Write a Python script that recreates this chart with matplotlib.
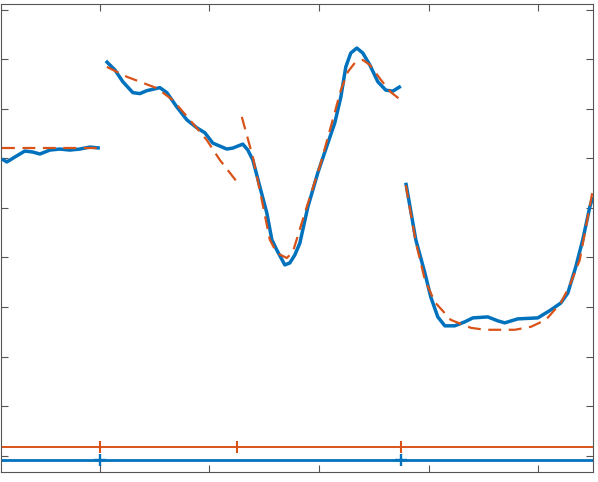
import matplotlib
matplotlib.use("Agg")
import matplotlib.pyplot as plt
import numpy as np

BLUE = "#0072BD"
ORANGE = "#D95319"

# Blue (measured) signal, three segments
blue1_x = [2.12, 3.03, 4.49, 6.31, 7.77, 9.05, 10.88, 12.70, 14.53, 16.35, 18.18, 20.0]
blue1_y = [5.99, 5.93, 6.03, 6.15, 6.13, 6.09, 6.17, 6.19, 6.17, 6.19, 6.23, 6.21]

blue2_x = [21.09, 22.74, 24.20, 26.02, 27.30, 28.58, 30.95, 32.23, 34.05, 35.88, 37.70, 39.16,
           40.62, 43.17, 44.27, 46.09, 47.01, 47.92, 49.20, 50.47, 51.39, 52.30, 53.76, 54.67,
           55.58, 56.50, 57.96, 59.78, 61.61, 62.88, 63.98, 64.89, 65.80, 66.90, 67.99, 69.27,
           70.73, 72.19, 73.47, 74.93]
blue2_y = [7.97, 7.79, 7.55, 7.33, 7.31, 7.37, 7.43, 7.33, 7.04, 6.78, 6.62, 6.52,
           6.31, 6.19, 6.21, 6.29, 6.17, 5.97, 5.43, 4.90, 4.36, 4.15, 3.85, 3.89,
           4.05, 4.29, 5.02, 5.71, 6.31, 6.72, 7.24, 7.85, 8.13, 8.23, 8.13, 7.89,
           7.55, 7.38, 7.36, 7.46]

blue3_x = [75.84, 77.66, 79.31, 80.40, 81.68, 82.96, 84.78, 86.61, 88.07, 90.80, 92.63, 93.90,
           96.28, 99.93, 102.30, 104.12, 105.40, 106.86, 108.14, 109.42, 109.96]
blue3_y = [5.51, 4.36, 3.69, 3.20, 2.80, 2.62, 2.62, 2.70, 2.78, 2.80, 2.72, 2.68,
           2.76, 2.78, 2.94, 3.08, 3.28, 3.81, 4.36, 5.02, 5.22]

# Orange (fitted) segments
or1_x = [2.12, 20.0]
or1_y = [6.21, 6.21]

or2_x = [21.28, 24.93, 30.40, 33.32, 36.42, 39.53, 41.90, 45.00]
or2_y = [7.85, 7.65, 7.42, 7.18, 6.78, 6.37, 5.97, 5.53]

or3_x = [45.91, 47.92, 49.56, 51.02, 52.30, 54.12, 55.22, 57.41, 60.33, 62.15, 63.98, 65.26,
         66.53, 67.99, 69.27, 71.28, 73.10, 74.93]
or3_y = [6.84, 6.03, 5.16, 4.36, 4.09, 3.99, 4.11, 4.90, 5.91, 6.64, 7.38, 7.75,
         7.93, 7.99, 7.89, 7.59, 7.34, 7.18]

or4_x = [75.84, 77.66, 79.31, 81.13, 84.05, 87.70, 90.25, 95.73, 98.65, 101.39, 104.12, 105.77,
         107.59, 109.96]
or4_y = [5.46, 4.31, 3.55, 3.10, 2.74, 2.58, 2.54, 2.54, 2.60, 2.74, 3.08, 3.44,
         3.95, 5.36]

# Segmentation indicator lines
orange_breaks = [20.0, 45.0, 75.05]
orange_level = 0.166
blue_breaks = [20.0, 75.05]
blue_level = -0.09

xticks = [20, 40, 60, 80, 100]
yticks = list(range(10))
xlim = (2.05, 110.0)
ylim = (-0.333, 9.12)

fig = plt.figure(figsize=(5.98, 4.82), dpi=100)
ax = fig.add_axes([0.0025, 0.0207, 0.9891, 0.971])

for xs, ys in [(blue1_x, blue1_y), (blue2_x, blue2_y), (blue3_x, blue3_y)]:
    ax.plot(xs, ys, color=BLUE, lw=2.5, solid_capstyle="butt", solid_joinstyle="round", zorder=3)
for xs, ys in [(or1_x, or1_y), (or2_x, or2_y), (or3_x, or3_y), (or4_x, or4_y)]:
    ax.plot(xs, ys, color=ORANGE, lw=1.6, dashes=(5.8, 3.4), zorder=4)

ax.axhline(orange_level, color=ORANGE, lw=1.4, zorder=2)
ax.plot(orange_breaks, [orange_level] * len(orange_breaks), ls="none", marker="|",
        ms=9, mew=1.5, color=ORANGE, zorder=2)
ax.axhline(blue_level, color=BLUE, lw=2.0, zorder=2)
ax.plot(blue_breaks, [blue_level] * len(blue_breaks), ls="none", marker="+",
        ms=9, mew=1.7, color=BLUE, zorder=2)

ax.set_xlim(*xlim)
ax.set_ylim(*ylim)
ax.set_xticks(xticks)
ax.set_yticks(yticks)
ax.set_xticklabels([])
ax.set_yticklabels([])
ax.tick_params(direction="in", length=5, width=0.8, color="#555555",
               top=True, right=True, bottom=True, left=True)
for s in ax.spines.values():
    s.set_color("#555555")
    s.set_linewidth(0.8)

fig.savefig("out.png", dpi=100)
